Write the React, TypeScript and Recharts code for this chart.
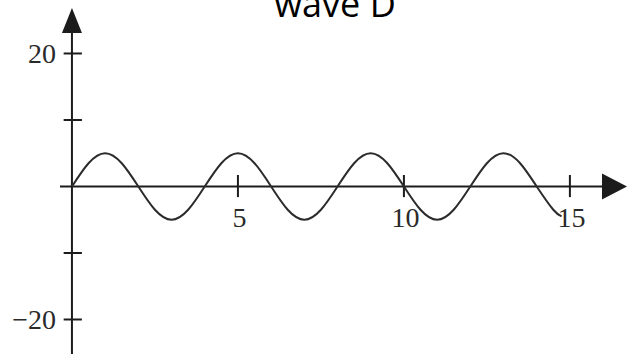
import { LineChart, Line, XAxis, YAxis, ReferenceLine, ReferenceDot } from "recharts"

// wave samples read at half-unit steps
const xs = [0, 0.5, 1, 1.5, 2, 2.5, 3, 3.5, 4, 4.5, 5, 5.5, 6, 6.5, 7, 7.5, 8, 8.5, 9, 9.5, 10, 10.5, 11, 11.5, 12, 12.5, 13, 13.5, 14, 14.5, 14.75]
const ys = [0, 3.5, 5, 3.5, 0, -3.5, -5, -3.5, 0, 3.5, 5, 3.5, 0, -3.5, -5, -3.5, 0, 3.5, 5, 3.5, 0, -3.5, -5, -3.5, 0, 3.5, 5, 3.5, 0, -3.5, -4.5]

const xTicks = [5, 10, 15]
const yTicks = [20, 10, -10, -20]
const yLabels = [20, -20]

const X_DOMAIN = [-0.39, 16.72]
const Y_DOMAIN = [-25.19, 26.84]

const data = xs.map((x, i) => ({ x, y: ys[i] }))

const INK = "#1c1c1c"
const serif = "'Liberation Serif', 'Times New Roman', serif"

const XArrow = ({ cx, cy }: any) => (
    <path d={`M${cx},${cy} L${cx - 25},${cy - 13} L${cx - 25},${cy + 13} Z`} fill={INK} />
)

const YArrow = ({ cx, cy }: any) => (
    <path d={`M${cx},${cy} L${cx - 10},${cy + 25} L${cx + 10},${cy + 25} Z`} fill={INK} />
)

const xLabel = (text: string) => ({ cx, cy }: any) => (
    <text x={cx} y={cy} textAnchor="middle" fontFamily={serif} fontSize={28} fill="#2a2a2a">
        {text}
    </text>
)

const yLabel = (text: string) => ({ cx, cy }: any) => (
    <text x={cx} y={cy + 10} textAnchor="end" fontFamily={serif} fontSize={28} fill="#2a2a2a">
        {text}
    </text>
)

export default function App() {
    return (
        <div style={{ position: "absolute", left: 0, top: 0, width: 633, height: 354, background: "#fff" }}>
            <LineChart width={633} height={354} data={data} margin={{ top: 8, right: 6, bottom: 0, left: 59 }}>
                <XAxis dataKey="x" type="number" domain={X_DOMAIN} allowDataOverflow hide />
                <YAxis type="number" domain={Y_DOMAIN} allowDataOverflow hide />

                {/* axes */}
                <ReferenceLine segment={[{ x: -0.36, y: 0 }, { x: 15.97, y: 0 }]} stroke={INK} strokeWidth={2} ifOverflow="visible" />
                <ReferenceLine segment={[{ x: 0, y: -25.19 }, { x: 0, y: 23.1 }]} stroke={INK} strokeWidth={2} ifOverflow="visible" />
                <ReferenceDot x={X_DOMAIN[1]} y={0} r={0} shape={XArrow} ifOverflow="visible" />
                <ReferenceDot x={0} y={Y_DOMAIN[1]} r={0} shape={YArrow} ifOverflow="visible" />

                {xTicks.map((t) => (
                    <ReferenceLine key={`xt-${t}`} segment={[{ x: t, y: 1.73 }, { x: t, y: -1.6 }]} stroke={INK} strokeWidth={2} ifOverflow="visible" />
                ))}
                {yTicks.map((t) => (
                    <ReferenceLine key={`yt-${t}`} segment={[{ x: -0.25, y: t }, { x: 0.3, y: t }]} stroke={INK} strokeWidth={2} ifOverflow="visible" />
                ))}

                <Line
                    dataKey="y"
                    type="natural"
                    stroke="#2b2b2b"
                    strokeWidth={2}
                    dot={false}
                    isAnimationActive={false}
                />

                {xTicks.map((t) => (
                    <ReferenceDot key={`xl-${t}`} x={t + 0.05} y={-6.1} r={0} shape={xLabel(String(t))} ifOverflow="visible" />
                ))}
                {yLabels.map((t) => (
                    <ReferenceDot key={`yl-${t}`} x={-0.48} y={t} r={0} shape={yLabel(t < 0 ? `\u2212${-t}` : String(t))} ifOverflow="visible" />
                ))}
            </LineChart>
            <div
                style={{
                    position: "absolute",
                    left: 0,
                    top: 0,
                    width: 633,
                    textAlign: "center",
                }}
            >
                <svg width={633} height={30} style={{ position: "absolute", left: 0, top: 0 }}>
                    <text x={335} y={17} textAnchor="middle" fontFamily="'Open Sans', sans-serif" fontSize={36} fill="#000">
                        wave D
                    </text>
                </svg>
            </div>
        </div>
    )
}
